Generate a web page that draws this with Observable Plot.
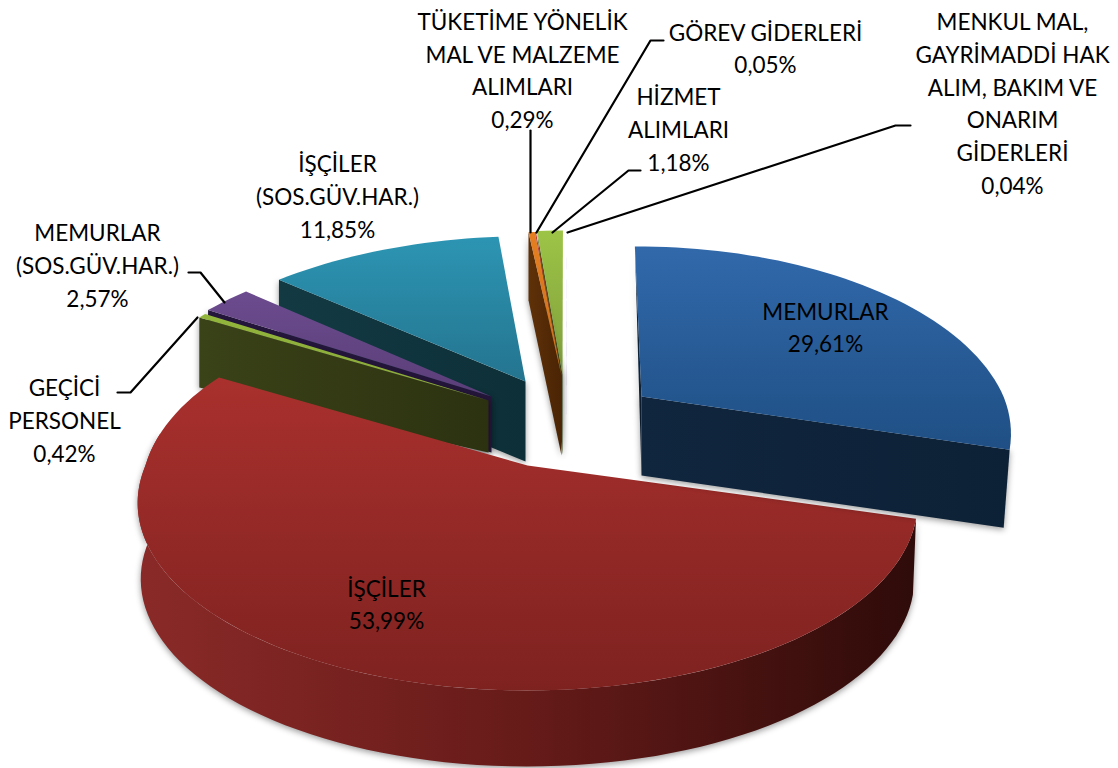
<!DOCTYPE html>
<html><head><meta charset="utf-8">
<script src="https://cdn.jsdelivr.net/npm/d3@7"></script>
<script src="https://cdn.jsdelivr.net/npm/@observablehq/plot@0.6"></script>
<style>html,body{margin:0;padding:0;background:#fff}svg{display:block}</style>
</head><body><div id="chart"></div>
<script>
const sliceNames = ["MEMURLAR","İŞÇİLER","GEÇİCİ PERSONEL","MEMURLAR (SOS.GÜV.HAR.)","İŞÇİLER (SOS.GÜV.HAR.)","TÜKETİME YÖNELİK MAL VE MALZEME ALIMLARI","GÖREV GİDERLERİ","HİZMET ALIMLARI","MENKUL MAL, GAYRİMADDİ HAK ALIM, BAKIM VE ONARIM GİDERLERİ"];
const sliceValues = [29.61,53.99,0.42,2.57,11.85,0.29,0.05,1.18,0.04];
const labelLines = [
  ["MEMURLAR"],["İŞÇİLER"],["GEÇİCİ","PERSONEL"],["MEMURLAR","(SOS.GÜV.HAR.)"],["İŞÇİLER","(SOS.GÜV.HAR.)"],
  ["TÜKETİME YÖNELİK","MAL VE MALZEME","ALIMLARI"],["GÖREV GİDERLERİ"],["HİZMET","ALIMLARI"],
  ["MENKUL MAL,","GAYRİMADDİ HAK","ALIM, BAKIM VE","ONARIM","GİDERLERİ"]];

// layout (pixels of the page), one entry per slice
const apexX   = [641,527,488,491,525,561,561,562,566];
const apexY   = [396,465,400,396,381,375,375,374,374];
const radiusX = [362,382,370,370,378,420,420,420,420];
const lean    = [0.03,0.12,0,0,-0.04,-0.025,-0.025,-0.025,-0.025];
const backRy  = [1,1.06,1,1,0.97,0.96,0.96,0.96,0.96];
const depth   = [78,76,52,56,80,80,80,80,56];
const labelX  = [825,386,64,97,337,522,765,678,1012];
const labelY  = [325,602,418,263,194,68,46,127,101];
const leaders = [
  null,null,
  [[117,392],[130,392],[197,317]],
  [[188,272],[200,272],[224,302]],
  null,
  [[530,130],[530,232]],
  [[663,40],[650,40],[536,232]],
  [[640,170],[628,170],[552,232]],
  [[910,125],[895,125],[567,232]]
];
const startAngle = -90.4, perspective = 0.2, ryBase = 180;

const gradients = {
  top0:["#3169ab","#1f4f84"], wall0:["#10263e","#0d2136"],
  top1:["#a9302d","#7e2220"], wall1:["#8a2a28","#661b19","#2e0b09"],
  top2:["#92b53c","#8aa83a"], wall2:["#3a4218","#2c3210"],
  top3:["#6c4b8e","#5a3e78"], wall3:["#24163a","#24163a"],
  top4:["#2c95b3","#24748f"], wall4:["#133a43","#0d2f38"],
  top5:["#e57e20","#c9701f"], wall5:["#5f3108","#4a2405"],
  top6:["#b83c30","#a03228"], wall6:["#5f3108","#4a2405"],
  top7:["#9dc446","#7f9e3c"], wall7:["#45591c","#3a4d18"],
  top8:["#7d60a0","#7d60a0"], wall8:["#7d60a0","#7d60a0"]
};

let cum = startAngle;
const spans = sliceValues.map(v => { const a = cum, b = cum + v * 3.6; cum = b; return [a, b]; });

function rim(i, deg, dy = 0) {
  const t = deg * Math.PI / 180, s = Math.sin(t), c = Math.cos(t), den = 1 - perspective * s;
  const ry = ryBase * s / den;
  const back = Math.min(ry, 0);
  return {x: apexX[i] + radiusX[i] * c / den + lean[i] * back, y: apexY[i] + (ry < 0 ? ry * backRy[i] : ry) + dy};
}
function arc(i, a, b, dy = 0) {
  const n = Math.max(2, Math.ceil(Math.abs(b - a) / 2));
  return d3.range(n + 1).map(k => rim(i, a + (b - a) * k / n, dy));
}
const apex = (i, dy = 0) => ({x: apexX[i], y: apexY[i] + dy});
const topFace = i => [apex(i), ...arc(i, spans[i][0], spans[i][1])];
const face = (pts, id) => Plot.line(pts, {x:"x", y:"y", fill:`url(#${id})`, stroke:"none", curve:"linear-closed"});

const lineMarks = leaders.filter(Boolean).map(l =>
  Plot.line(l.map(([x,y]) => ({x,y})), {x:"x", y:"y", stroke:"#000", strokeWidth:2.2}));

// radial side walls: start edge of the slice, from rim to apex
const radialWall = (i, deg, rimDepth) => [rim(i,deg), rim(i,deg,rimDepth), apex(i,depth[i]), apex(i)];
const blueEnd = rim(0, spans[0][1]);

const marks = [
  // teal
  face(radialWall(4, spans[4][0], 80), "wall4"), face(topFace(4), "top4"),
  // narrow slices
  face([rim(8,spans[8][0]), apex(8,56), apex(8)], "wall8"),
  face([rim(7,spans[7][0]), apex(7,80), apex(7)], "wall7"), face(topFace(7), "top7"),
  face(radialWall(5, spans[5][0], 68), "wall5"), face(topFace(5), "top5"), face(topFace(6), "top6"),
  // purple
  face(radialWall(3, spans[3][0], 70), "wall3"), face(topFace(3), "top3"),
  // olive
  face(radialWall(2, spans[2][0], 70), "wall2"), face(topFace(2), "top2"),
  // red
  face([...arc(1, spans[1][0], 190), ...arc(1, 190, spans[1][0], 76).map(p => ({x: p.x + (527 - p.x) * 0.008, y: p.y}))], "wall1"),
  face(topFace(1), "top1"),
  // blue
  face([rim(0,spans[0][0]), apex(0,79), apex(0)], "wall0"),
  face([apex(0), apex(0,79), {x: blueEnd.x - 6, y: blueEnd.y + 78}, blueEnd], "wall0"),
  face(topFace(0), "top0"),
  ...lineMarks,
  ...sliceNames.map((name, i) => Plot.text([{
      x: labelX[i], y: labelY[i],
      t: [...labelLines[i], sliceValues[i].toFixed(2).replace(".", ",") + "%"].join("\n")
    }], {x:"x", y:"y", text:"t", fontSize:22.5, lineHeight:1.45, fill:"#000", textAnchor:"middle", lineAnchor:"middle", title:() => name}))
];

const chart = Plot.plot({
  width:1118, height:768, margin:0,
  style:{fontFamily:"Lato, sans-serif", background:"#fff"},
  x:{domain:[0,1118], range:[0,1118], axis:null},
  y:{domain:[0,768], range:[0,768], axis:null},
  marks
});
const svg = d3.select(chart.tagName === "svg" ? chart : chart.querySelector("svg"));
const defs = svg.insert("defs", ":first-child");
Object.entries(gradients).forEach(([id, stops]) => {
  const horizontal = id.startsWith("wall");
  const g = defs.append("linearGradient").attr("id", id).attr("x1",0).attr("y1",0)
    .attr("x2", horizontal ? 1 : 0).attr("y2", horizontal ? 0 : 1);
  stops.forEach((c, k) => g.append("stop").attr("offset", k / (stops.length - 1)).attr("stop-color", c));
});
svg.selectAll('g[fill^="url(#wall"]').style("filter", "drop-shadow(0 2px 3px rgba(0,0,0,.4))");
document.getElementById("chart").append(chart);
</script></body></html>
